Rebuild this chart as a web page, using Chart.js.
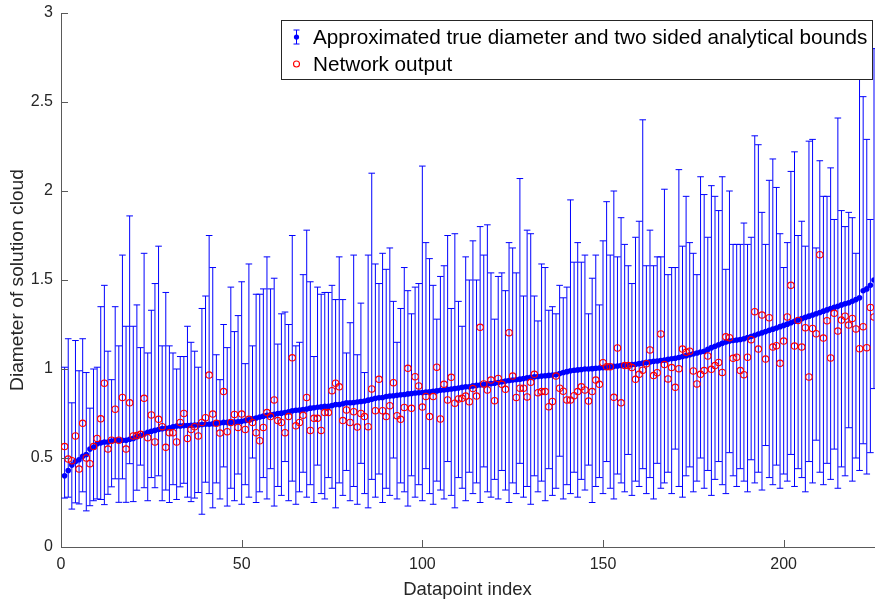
<!DOCTYPE html>
<html>
<head>
<meta charset="utf-8">
<script src="https://cdn.jsdelivr.net/npm/chart.js@4.4.1/dist/chart.umd.min.js"></script>
<style>
  html, body { margin: 0; padding: 0; background: #ffffff; overflow: hidden; }
  #wrap { position: relative; width: 875px; height: 606px; }
  canvas { display: block; }
</style>
</head>
<body>
<div id="wrap"><canvas id="chart" width="875" height="606"></canvas></div>
<script>
// Approximated true diameter of the solution cloud, sorted ascending (datapoints 1..225)
const trueDiameter = [
  0.40,0.43,0.46,0.48,0.49,0.51,0.52,0.55,0.56,0.58,
  0.585,0.59,0.59,0.595,0.60,0.60,0.60,0.60,0.605,0.61,
  0.62,0.625,0.635,0.645,0.65,0.655,0.66,0.665,0.667,0.67,
  0.675,0.68,0.68,0.682,0.683,0.684,0.685,0.686,0.688,0.69,
  0.69,0.692,0.695,0.697,0.70,0.70,0.70,0.702,0.704,0.706,
  0.71,0.715,0.72,0.725,0.73,0.735,0.74,0.742,0.745,0.75,
  0.752,0.755,0.76,0.765,0.768,0.77,0.772,0.775,0.78,0.782,
  0.785,0.787,0.79,0.79,0.795,0.80,0.80,0.805,0.81,0.81,
  0.812,0.815,0.817,0.82,0.825,0.83,0.835,0.838,0.84,0.845,
  0.848,0.85,0.852,0.855,0.857,0.86,0.862,0.865,0.866,0.868,
  0.87,0.872,0.875,0.877,0.88,0.882,0.885,0.888,0.89,0.893,
  0.897,0.90,0.90,0.905,0.908,0.91,0.912,0.915,0.918,0.92,
  0.924,0.928,0.932,0.935,0.938,0.94,0.943,0.946,0.95,0.953,
  0.956,0.958,0.96,0.962,0.964,0.966,0.968,0.975,0.98,0.985,
  0.99,0.993,0.995,0.997,1.0,1.0,1.002,1.004,1.005,1.007,
  1.01,1.012,1.015,1.017,1.02,1.022,1.023,1.025,1.027,1.03,
  1.033,1.037,1.04,1.043,1.045,1.048,1.05,1.055,1.058,1.06,
  1.065,1.07,1.075,1.08,1.085,1.09,1.095,1.10,1.11,1.12,
  1.128,1.136,1.144,1.152,1.157,1.16,1.163,1.166,1.17,1.176,
  1.183,1.19,1.197,1.203,1.21,1.217,1.224,1.23,1.238,1.245,
  1.252,1.26,1.268,1.275,1.283,1.29,1.297,1.303,1.31,1.317,
  1.325,1.332,1.34,1.346,1.352,1.36,1.366,1.372,1.38,1.39,
  1.40,1.44,1.45,1.47,1.50
];

// Two sided analytical bounds
const lowerBound = [
  0.275,0.28,0.213,0.248,0.242,0.31,0.203,0.232,0.26,0.27,
  0.267,0.238,0.296,0.338,0.383,0.251,0.383,0.251,0.468,0.255,
  0.319,0.46,0.333,0.26,0.39,0.333,0.40,0.26,0.32,0.25,
  0.35,0.267,0.338,0.358,0.28,0.255,0.275,0.306,0.184,0.364,
  0.30,0.22,0.36,0.27,0.45,0.23,0.33,0.26,0.41,0.24,
  0.35,0.28,0.50,0.25,0.31,0.39,0.27,0.44,0.23,0.34,
  0.29,0.48,0.26,0.37,0.24,0.31,0.42,0.28,0.35,0.25,
  0.46,0.30,0.27,0.39,0.33,0.22,0.36,0.29,0.43,0.26,
  0.34,0.24,0.47,0.30,0.22,0.38,0.28,0.41,0.25,0.33,
  0.29,0.50,0.27,0.36,0.31,0.23,0.40,0.28,0.35,0.26,
  0.44,0.30,0.24,0.37,0.32,0.27,0.48,0.29,0.22,0.39,
  0.33,0.26,0.42,0.30,0.36,0.25,0.45,0.31,0.28,0.38,
  0.27,0.43,0.32,0.25,0.36,0.30,0.47,0.28,0.34,0.24,
  0.40,0.31,0.37,0.26,0.44,0.29,0.33,0.51,0.27,0.35,
  0.30,0.42,0.28,0.38,0.32,0.46,0.25,0.34,0.39,0.30,
  0.48,0.33,0.27,0.41,0.36,0.31,0.52,0.29,0.37,0.34,
  0.44,0.30,0.39,0.27,0.47,0.33,0.36,0.42,0.30,0.55,
  0.34,0.28,0.40,0.45,0.31,0.37,0.50,0.33,0.43,0.29,
  0.38,0.48,0.35,0.30,0.53,0.40,0.34,0.44,0.37,0.31,
  0.49,0.36,0.42,0.32,0.57,0.39,0.35,0.46,0.33,0.41,
  0.37,0.52,0.34,0.44,0.39,0.31,0.48,0.36,0.60,0.42,
  0.35,0.47,0.38,0.55,0.33,0.45,0.40,0.67,0.37,0.50,
  0.43,0.58,0.41,0.53,0.89
];
const upperBound = [
  1.01,1.17,0.81,1.16,0.99,1.17,0.98,0.78,1.00,1.01,
  1.35,1.47,1.10,0.94,1.35,1.13,1.64,1.24,1.86,1.24,
  1.36,1.12,1.65,1.09,1.33,1.48,1.69,1.13,1.43,1.13,
  1.09,1.00,1.07,1.07,1.24,1.15,1.10,1.01,1.34,1.41,
  1.75,1.57,1.08,0.94,1.25,1.12,1.46,1.21,1.30,1.49,
  1.03,1.59,1.13,1.42,1.42,1.45,1.63,1.45,1.51,1.14,
  1.31,1.32,1.25,1.75,1.13,1.15,1.53,1.78,1.49,1.07,
  1.46,1.42,1.43,1.43,1.47,1.39,1.63,1.39,1.09,1.26,
  1.64,1.08,1.37,0.98,1.64,2.10,1.59,1.48,1.65,1.56,
  1.68,1.38,1.15,1.34,1.57,1.44,1.31,1.46,1.48,2.14,
  1.71,1.62,1.47,1.28,1.52,1.58,1.75,1.34,1.76,1.38,
  1.24,1.63,1.50,1.72,1.50,1.80,1.64,1.81,1.54,1.28,
  1.52,1.54,1.44,1.71,1.68,1.54,2.07,1.41,1.78,1.76,
  1.41,1.27,1.59,1.57,1.33,1.35,1.31,1.47,1.40,1.46,
  1.95,1.60,1.71,1.60,1.64,1.31,1.51,1.64,1.36,1.72,
  1.94,1.64,2.00,1.63,1.85,1.70,1.58,1.48,1.74,1.83,
  2.40,1.58,1.78,1.58,1.63,1.63,2.01,1.53,1.57,1.57,
  2.12,1.69,1.97,1.71,1.65,1.53,2.08,1.98,1.74,2.03,
  1.97,1.89,2.08,1.56,2.00,1.70,1.70,1.70,1.82,1.70,
  1.74,2.31,2.26,1.88,1.70,2.06,2.18,2.02,1.76,1.57,
  1.71,2.11,2.22,1.75,1.83,1.69,2.28,2.29,1.68,2.17,
  1.97,1.97,2.13,1.84,2.41,1.89,1.80,1.88,1.85,1.65,
  2.65,2.53,2.29,1.84,2.80
];

// Diameter predicted by the network
const networkOutput = [
  0.564,0.494,0.485,0.624,0.438,0.695,0.50,0.468,0.564,0.61,
  0.72,0.92,0.55,0.60,0.774,0.60,0.84,0.55,0.81,0.624,
  0.626,0.633,0.835,0.614,0.742,0.59,0.717,0.676,0.56,0.642,
  0.642,0.59,0.70,0.75,0.61,0.66,0.676,0.624,0.70,0.726,
  0.966,0.747,0.695,0.64,0.873,0.648,0.70,0.745,0.672,0.747,
  0.66,0.717,0.70,0.642,0.597,0.672,0.755,0.733,0.826,0.71,
  0.70,0.642,0.733,1.063,0.681,0.70,0.74,0.84,0.655,0.723,
  0.723,0.655,0.755,0.755,0.878,0.92,0.90,0.71,0.77,0.70,
  0.76,0.674,0.75,0.733,0.676,0.888,0.766,0.942,0.766,0.733,
  0.794,0.923,0.738,0.717,0.784,1.004,0.779,0.957,0.905,0.786,
  0.846,0.733,0.845,1.01,0.719,0.914,0.826,0.953,0.808,0.832,
  0.835,0.848,0.816,0.89,0.848,1.234,0.916,0.882,0.938,0.822,
  0.947,0.914,0.886,1.204,0.96,0.84,0.892,0.892,0.843,0.925,
  0.97,0.867,0.873,0.873,0.788,0.818,0.96,0.892,0.875,0.826,
  0.826,0.85,0.873,0.90,0.882,0.82,0.873,0.938,0.914,1.035,
  1.013,1.013,0.841,1.118,0.81,1.019,1.019,1.008,0.942,0.97,
  0.993,1.03,1.107,0.963,0.979,1.197,1.025,0.944,1.008,0.897,
  1.002,1.112,1.094,1.10,0.989,0.916,0.97,0.991,1.073,0.998,
  1.019,1.037,0.981,1.181,1.176,1.06,1.066,0.991,0.968,1.066,
  1.165,1.322,1.112,1.303,1.056,1.288,1.123,1.131,1.032,1.157,
  1.292,1.47,1.129,1.273,1.123,1.232,0.955,1.228,1.198,1.642,
  1.174,1.271,1.062,1.313,1.213,1.275,1.297,1.247,1.284,1.225,
  1.114,1.238,1.12,1.346,1.292
];

// Datapoint index runs 1..N along the x axis
const datapointIndex = trueDiameter.map((_, i) => i + 1);

const xTickValues = [0, 50, 100, 150, 200];
const yTickValues = [0, 0.5, 1, 1.5, 2, 2.5, 3];
const xAxisTitle = 'Datapoint index';
const yAxisTitle = 'Diameter of solution cloud';
const boundsLabel = 'Approximated true diameter and two sided analytical bounds';
const networkLabel = 'Network output';

const BLUE = '#0000ff';
const RED = '#ff0000';
const AXIS = '#5a5a5a';
const FONT = "'Liberation Sans', Arial, Helvetica, sans-serif";

Chart.defaults.font.family = FONT;
Chart.defaults.color = '#262626';

// vertical error bars with caps, drawn under the markers
const errorBarPlugin = {
  id: 'errorBars',
  beforeDatasetsDraw(chart) {
    const { ctx, scales: { x, y } } = chart;
    const cap = 3.3;
    ctx.save();
    ctx.strokeStyle = BLUE;
    ctx.lineWidth = 1;
    ctx.beginPath();
    datapointIndex.forEach((idx, i) => {
      const px = x.getPixelForValue(idx);
      const yl = y.getPixelForValue(lowerBound[i]);
      const yu = y.getPixelForValue(upperBound[i]);
      ctx.moveTo(px, yl); ctx.lineTo(px, yu);
      ctx.moveTo(px - cap, yl); ctx.lineTo(px + cap, yl);
      ctx.moveTo(px - cap, yu); ctx.lineTo(px + cap, yu);
    });
    ctx.stroke();
    ctx.restore();
  }
};

// inward tick marks on the left and bottom axes
const innerTicksPlugin = {
  id: 'innerTicks',
  afterDatasetsDraw(chart) {
    const { ctx, chartArea: a, scales: { x, y } } = chart;
    const len = 7;
    ctx.save();
    ctx.strokeStyle = AXIS;
    ctx.lineWidth = 1;
    ctx.beginPath();
    yTickValues.forEach(v => {
      const py = Math.round(y.getPixelForValue(v)) + 0.5;
      ctx.moveTo(a.left, py); ctx.lineTo(a.left + len, py);
    });
    xTickValues.forEach(v => {
      const px = Math.round(x.getPixelForValue(v)) + 0.5;
      ctx.moveTo(px, a.bottom); ctx.lineTo(px, a.bottom - len);
    });
    ctx.stroke();
    ctx.restore();
  }
};

// legend box in the upper right corner of the axes
const legendPlugin = {
  id: 'boxLegend',
  afterDraw(chart) {
    const { ctx } = chart;
    const box = { left: 281.5, top: 20.5, right: 872.5, bottom: 79.5 };
    ctx.save();
    ctx.fillStyle = '#ffffff';
    ctx.fillRect(box.left, box.top, box.right - box.left, box.bottom - box.top);
    ctx.strokeStyle = '#262626';
    ctx.lineWidth = 1;
    ctx.strokeRect(box.left, box.top, box.right - box.left, box.bottom - box.top);

    const symX = 296.5;
    const row1 = 37, row2 = 64;
    // error bar symbol
    ctx.strokeStyle = BLUE;
    ctx.beginPath();
    ctx.moveTo(symX, row1 - 7); ctx.lineTo(symX, row1 + 7);
    ctx.moveTo(symX - 3, row1 - 7); ctx.lineTo(symX + 3, row1 - 7);
    ctx.moveTo(symX - 3, row1 + 7); ctx.lineTo(symX + 3, row1 + 7);
    ctx.stroke();
    ctx.fillStyle = BLUE;
    ctx.beginPath(); ctx.arc(symX, row1, 2.6, 0, Math.PI * 2); ctx.fill();
    // network output symbol
    ctx.strokeStyle = RED;
    ctx.lineWidth = 1.1;
    ctx.beginPath(); ctx.arc(symX, row2, 3, 0, Math.PI * 2); ctx.stroke();

    ctx.fillStyle = '#000000';
    ctx.font = '20.7px ' + FONT;
    ctx.textAlign = 'left';
    ctx.textBaseline = 'middle';
    ctx.fillText(chart.data.datasets[1].label, 313, row1 + 1);
    ctx.fillText(chart.data.datasets[0].label, 313, row2 + 1);
    ctx.restore();
  }
};

new Chart(document.getElementById('chart'), {
  type: 'scatter',
  data: {
    datasets: [
      {
        label: networkLabel,
        data: datapointIndex.map((x, i) => ({ x, y: networkOutput[i] })),
        pointStyle: 'circle',
        pointRadius: 3.2,
        pointBorderWidth: 1.1,
        pointBackgroundColor: 'rgba(0,0,0,0)',
        pointBorderColor: RED,
        showLine: false,
        order: 0
      },
      {
        label: boundsLabel,
        data: datapointIndex.map((x, i) => ({ x, y: trueDiameter[i] })),
        pointStyle: 'circle',
        pointRadius: 2.8,
        pointBorderWidth: 0,
        pointBackgroundColor: BLUE,
        pointBorderColor: BLUE,
        showLine: false,
        order: 1
      }
    ]
  },
  options: {
    responsive: false,
    animation: false,
    events: [],
    layout: { autoPadding: false, padding: { top: 13, right: 1, left: 0, bottom: 0 } },
    plugins: {
      legend: { display: false },
      tooltip: { enabled: false },
      title: { display: false }
    },
    scales: {
      x: {
        type: 'linear',
        min: 0,
        max: 225,
        afterBuildTicks: s => { s.ticks = xTickValues.map(v => ({ value: v })); },
        afterFit: s => { s.height = 59; s.paddingLeft = 0; s.paddingRight = 0; },
        grid: { display: false, drawTicks: false },
        border: { display: true, color: AXIS, width: 1 },
        ticks: { font: { size: 16 }, padding: 8, maxRotation: 0, color: '#262626' },
        title: { display: true, text: xAxisTitle, font: { size: 18.5 }, color: '#262626', padding: { top: 0, bottom: 5 } }
      },
      y: {
        type: 'linear',
        min: 0,
        max: 3,
        afterBuildTicks: s => { s.ticks = yTickValues.map(v => ({ value: v })); },
        afterFit: s => { s.width = 61; s.paddingTop = 0; s.paddingBottom = 0; },
        grid: { display: false, drawTicks: false },
        border: { display: true, color: AXIS, width: 1 },
        ticks: { font: { size: 16 }, padding: 8, color: '#262626', callback: v => String(v) },
        title: { display: true, text: yAxisTitle, font: { size: 19.2 }, color: '#262626', padding: { top: 6, bottom: 0 } }
      }
    }
  },
  plugins: [errorBarPlugin, innerTicksPlugin, legendPlugin]
});
</script>
</body>
</html>
